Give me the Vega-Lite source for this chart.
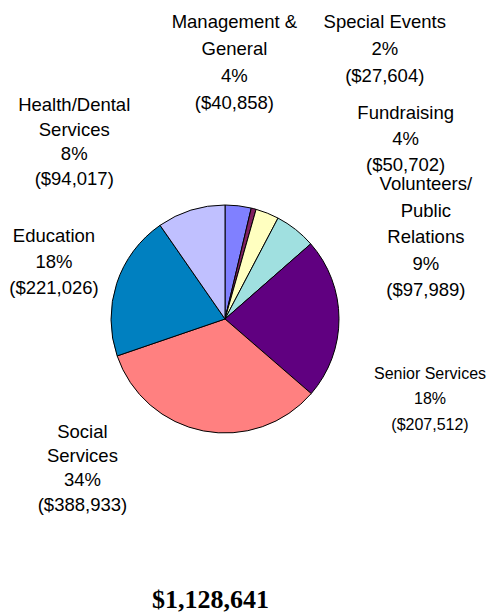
{
  "$schema": "https://vega.github.io/schema/vega-lite/v6.json",
  "width": 450,
  "height": 588,
  "autosize": "none",
  "padding": {"left": 0, "top": 25, "right": 38, "bottom": 0},
  "background": "white",
  "config": {"view": {"stroke": null}},
  "title": {
    "text": "$1,128,641",
    "orient": "bottom",
    "anchor": "middle",
    "offset": -5,
    "baseline": "alphabetic",
    "dx": -14.5,
    "font": "Liberation Serif",
    "fontSize": 26,
    "fontWeight": "bold",
    "color": "black"
  },
  "data": {
    "values": [
      {"n": 1, "cat": "Management & General", "share": 3.7, "amount": 40858, "label": "Management &\nGeneral\n4%\n($40,858)"},
      {"n": 2, "cat": "Special Events", "share": 0.7, "amount": 27604, "label": "Special Events\n2%\n($27,604)"},
      {"n": 3, "cat": "Fundraising", "share": 3.3, "amount": 50702, "label": "Fundraising\n4%\n($50,702)"},
      {"n": 4, "cat": "Volunteers/Public Relations", "share": 5.85, "amount": 97989, "label": "Volunteers/\nPublic\nRelations\n9%\n($97,989)"},
      {"n": 5, "cat": "Senior Services", "share": 22.8, "amount": 207512, "label": "Senior Services\n18%\n($207,512)"},
      {"n": 6, "cat": "Social Services", "share": 33.4, "amount": 388933, "label": "Social\nServices\n34%\n($388,933)"},
      {"n": 7, "cat": "Education", "share": 20.6, "amount": 221026, "label": "Education\n18%\n($221,026)"},
      {"n": 8, "cat": "Health/Dental Services", "share": 9.65, "amount": 94017, "label": "Health/Dental\nServices\n8%\n($94,017)"}
    ]
  },
  "encoding": {
    "theta": {"field": "share", "type": "quantitative", "stack": true},
    "order": {"field": "n", "type": "quantitative"}
  },
  "layer": [
    {
      "mark": {"type": "arc", "outerRadius": 114, "stroke": "black", "strokeWidth": 1},
      "encoding": {
        "color": {
          "field": "cat",
          "type": "nominal",
          "scale": {
            "domain": ["Management & General", "Special Events", "Fundraising", "Volunteers/Public Relations", "Senior Services", "Social Services", "Education", "Health/Dental Services"],
            "range": ["#8080FF", "#802060", "#FFFFC0", "#A0E0E0", "#600080", "#FF8080", "#0080C0", "#C0C0FF"]
          },
          "legend": null
        }
      }
    },
    {
      "mark": {"type": "text", "radius": 150, "dx": -8, "dy": -148, "font": "Liberation Sans", "fontSize": 18.5, "lineHeight": 27, "lineBreak": "\n", "align": "center", "baseline": "middle", "color": "black"},
      "encoding": {"text": {"condition": {"test": "datum.n === 1", "field": "label", "type": "nominal"}, "value": ""}}
    },
    {
      "mark": {"type": "text", "radius": 150, "dx": 122, "dy": -152, "font": "Liberation Sans", "fontSize": 18.5, "lineHeight": 27, "lineBreak": "\n", "align": "center", "baseline": "middle", "color": "black"},
      "encoding": {"text": {"condition": {"test": "datum.n === 2", "field": "label", "type": "nominal"}, "value": ""}}
    },
    {
      "mark": {"type": "text", "radius": 150, "dx": 125, "dy": -67, "font": "Liberation Sans", "fontSize": 18.5, "lineHeight": 26, "lineBreak": "\n", "align": "center", "baseline": "middle", "color": "black"},
      "encoding": {"text": {"condition": {"test": "datum.n === 3", "field": "label", "type": "nominal"}, "value": ""}}
    },
    {
      "mark": {"type": "text", "radius": 150, "dx": 108, "dy": -17, "font": "Liberation Sans", "fontSize": 18.5, "lineHeight": 26.5, "lineBreak": "\n", "align": "center", "baseline": "middle", "color": "black"},
      "encoding": {"text": {"condition": {"test": "datum.n === 4", "field": "label", "type": "nominal"}, "value": ""}}
    },
    {
      "mark": {"type": "text", "radius": 150, "dx": 55, "dy": 55.5, "font": "Liberation Sans", "fontSize": 16, "lineHeight": 25.3, "lineBreak": "\n", "align": "center", "baseline": "middle", "color": "black"},
      "encoding": {"text": {"condition": {"test": "datum.n === 5", "field": "label", "type": "nominal"}, "value": ""}}
    },
    {
      "mark": {"type": "text", "radius": 150, "dx": -114, "dy": -34.5, "font": "Liberation Sans", "fontSize": 18.5, "lineHeight": 24.3, "lineBreak": "\n", "align": "center", "baseline": "middle", "color": "black"},
      "encoding": {"text": {"condition": {"test": "datum.n === 6", "field": "label", "type": "nominal"}, "value": ""}}
    },
    {
      "mark": {"type": "text", "radius": 150, "dx": -28.5, "dy": -36, "font": "Liberation Sans", "fontSize": 18.5, "lineHeight": 26, "lineBreak": "\n", "align": "center", "baseline": "middle", "color": "black"},
      "encoding": {"text": {"condition": {"test": "datum.n === 7", "field": "label", "type": "nominal"}, "value": ""}}
    },
    {
      "mark": {"type": "text", "radius": 150, "dx": -106, "dy": -70.5, "font": "Liberation Sans", "fontSize": 18.5, "lineHeight": 24.5, "lineBreak": "\n", "align": "center", "baseline": "middle", "color": "black"},
      "encoding": {"text": {"condition": {"test": "datum.n === 8", "field": "label", "type": "nominal"}, "value": ""}}
    }
  ]
}
